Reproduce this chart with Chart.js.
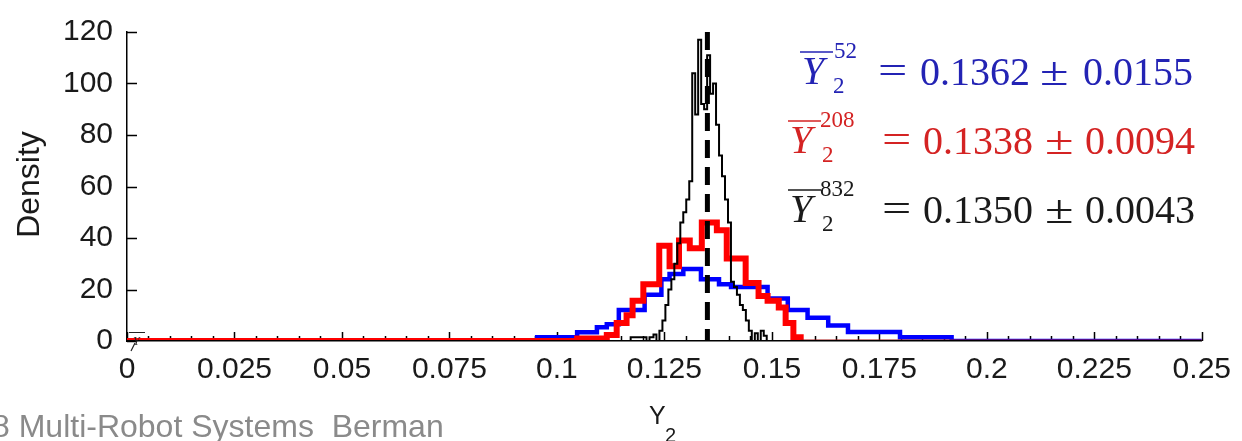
<!DOCTYPE html>
<html><head><meta charset="utf-8">
<script src="https://cdn.jsdelivr.net/npm/chart.js@4.4.1/dist/chart.umd.min.js"></script>
<style>html,body{margin:0;padding:0;background:#fff;overflow:hidden}canvas{display:block}</style>
</head><body>
<canvas id="c" width="1242" height="441"></canvas>
<script>
// ---- axis ticks ----
const xTickValues = [0, 0.025, 0.05, 0.075, 0.1, 0.125, 0.15, 0.175, 0.2, 0.225, 0.25];
const xTickLabels = ['0', '0.025', '0.05', '0.075', '0.1', '0.125', '0.15', '0.175', '0.2', '0.225', '0.25'];
const yTickValues = [0, 20, 40, 60, 80, 100, 120];
const yTickLabels = ['0', '20', '40', '60', '80', '100', '120'];

// ---- histogram stairs: bin left edges and density ----
const blueEdges = [0.0954, 0.1047, 0.1093, 0.1116, 0.1144, 0.1204, 0.1243, 0.1262, 0.1294, 0.1335, 0.1377, 0.1405, 0.1490, 0.1537, 0.1583, 0.1631, 0.1677, 0.1798, 0.1918];
const blueDensity = [1.5, 3.4, 5.3, 6.5, 12, 18, 24, 26, 28, 24, 22, 21, 16.5, 12, 9, 6, 3.5, 1.5, 0];

const redEdges = [0.1047, 0.1116, 0.1139, 0.1162, 0.1176, 0.1201, 0.1238, 0.1262, 0.1284, 0.1309, 0.1337, 0.1372, 0.1395, 0.1439, 0.1469, 0.1490, 0.1516, 0.1532, 0.1550, 0.1567];
const redDensity = [1, 2.3, 7, 10, 15.6, 22, 37, 29, 39, 36, 46, 43, 32, 22.5, 17.5, 15.6, 13, 7, 1.5, 0];

const blackEdges = [0.11715, 0.11876, 0.12084, 0.12153, 0.12246, 0.12315, 0.12384, 0.12454, 0.12523, 0.12592, 0.12662, 0.12731, 0.12800, 0.12870, 0.12939, 0.13008, 0.13078, 0.13147, 0.13216, 0.13285, 0.13355, 0.13424, 0.13494, 0.13563, 0.13632, 0.13701, 0.13771, 0.13840, 0.13909, 0.13979, 0.14048, 0.14118, 0.14187, 0.14256, 0.14325, 0.14395, 0.14464, 0.14533, 0.14603, 0.14672, 0.14741, 0.14811, 0.14880];
const blackDensity = [1.5, 1.5, 0, 1.5, 2.5, 0, 4, 8, 14, 20, 24, 30, 38, 46, 50, 55, 62, 104, 88, 117, 92, 90, 111, 96, 100, 84, 72, 64, 55, 46, 23, 21, 18, 14, 12, 8, 4, 0, 3, 0, 4, 2, 0];

const meanValue = 0.1350;

// ---- legend text ----
const legendSup = ['52', '208', '832'];
const legendMean = ['0.1362', '0.1338', '0.1350'];
const legendStd = ['0.0155', '0.0094', '0.0043'];
const legendColors = ['#2323b4', '#d42323', '#1a1a1a'];

const X_MIN = 0, X_MAX = 0.25, Y_MIN = 0, Y_MAX = 120;

function stairs(edges, vals) {
  const pts = [{x: X_MIN, y: 0}];
  for (let i = 0; i < edges.length; i++) pts.push({x: edges[i], y: vals[i]});
  pts.push({x: X_MAX, y: 0});
  return pts;
}

const decor = {
  id: 'decor',
  beforeDatasetsDraw(chart) {
    const ctx = chart.ctx, xs = chart.scales.x, ys = chart.scales.y, a = chart.chartArea;
    ctx.save();
    ctx.strokeStyle = '#000';
    ctx.lineWidth = 1.5;
    ctx.beginPath();
    for (let k = 0; k <= 50; k++) {
      const v = k * 0.005;
      const px = Math.round(xs.getPixelForValue(v)) + 0.5;
      const major = k % 5 === 0;
      ctx.moveTo(px, a.bottom);
      ctx.lineTo(px, a.bottom - (major ? 9 : 5));
    }
    yTickValues.forEach(v => {
      const py = Math.round(ys.getPixelForValue(v)) + 0.5;
      ctx.moveTo(a.left, py);
      ctx.lineTo(a.left + 10, py);
    });
    ctx.stroke();
    ctx.restore();
  },
  afterDraw(chart) {
    const ctx = chart.ctx, a = chart.chartArea;
    ctx.save();
    // y title
    ctx.fillStyle = '#1a1a1a';
    ctx.font = "32px 'Liberation Sans'";
    ctx.textAlign = 'center';
    ctx.textBaseline = 'middle';
    ctx.translate(30, (a.top + a.bottom) / 2 - 2);
    ctx.rotate(-Math.PI / 2);
    ctx.fillText('Density', 0, 0);
    ctx.restore();

    ctx.save();
    // x title Y_2
    ctx.fillStyle = '#1a1a1a';
    ctx.textBaseline = 'alphabetic';
    ctx.textAlign = 'left';
    ctx.font = "25px 'Liberation Sans'";
    ctx.fillText('Y', 649, 424);
    ctx.font = "20px 'Liberation Sans'";
    ctx.fillText('2', 665, 442);

    // footer
    ctx.fillStyle = '#8a8a8a';
    ctx.font = "32px 'Liberation Sans'";
    ctx.fillText('8 Multi-Robot Systems  Berman', -8, 437);

    // small artifact at origin
    ctx.strokeStyle = '#222';
    ctx.lineWidth = 1.2;
    ctx.beginPath();
    ctx.moveTo(129, 332.5); ctx.lineTo(145, 332.5);
    ctx.moveTo(135, 343); ctx.lineTo(131, 351);
    ctx.stroke();
    ctx.fillStyle = '#222';
    ctx.font = "italic 12px 'Liberation Serif'";
    ctx.fillText('Y', 133, 345);

    // legend equations
    const rows = [
      {base: 85, yx: 802, supx: 834, subx: 833, eqx: 878, mx: 920, pmx: 1040, sx: 1083},
      {base: 154, yx: 790, supx: 820, subx: 822, eqx: 882, mx: 923, pmx: 1045, sx: 1085},
      {base: 223, yx: 790, supx: 820, subx: 822, eqx: 882, mx: 923, pmx: 1045, sx: 1085}
    ];
    rows.forEach((r, i) => {
      ctx.fillStyle = legendColors[i];
      ctx.strokeStyle = legendColors[i];
      ctx.font = "italic 40px 'Liberation Serif'";
      ctx.fillText('Y', r.yx, r.base - 1);
      ctx.lineWidth = 1.6;
      ctx.beginPath();
      ctx.moveTo(r.yx - 2, r.base - 33); ctx.lineTo(r.yx + 31, r.base - 33);
      ctx.stroke();
      ctx.font = "23px 'Liberation Serif'";
      ctx.fillText(legendSup[i], r.supx, r.base - 27);
      ctx.fillText('2', r.subx, r.base + 8);
      ctx.font = "40px 'Liberation Serif'";
      ctx.save(); ctx.translate(r.eqx, r.base - 1); ctx.scale(1.3, 1); ctx.fillText('=', 0, 0); ctx.restore();
      ctx.fillText(legendMean[i], r.mx, r.base);
      ctx.save(); ctx.translate(r.pmx, r.base); ctx.scale(1.3, 1); ctx.fillText('\u00b1', 0, 0); ctx.restore();
      ctx.fillText(legendStd[i], r.sx, r.base);
    });
    ctx.restore();
  }
};

const tickFont = {family: 'Liberation Sans', size: 30};

new Chart(document.getElementById('c').getContext('2d'), {
  type: 'line',
  data: {
    datasets: [
      {
        label: 'mean',
        data: [{x: meanValue, y: Y_MAX}, {x: meanValue, y: Y_MIN}],
        borderColor: '#000', borderWidth: 5, borderDash: [18, 9],
        pointRadius: 0, tension: 0, fill: false
      },
      {
        label: '832',
        data: stairs(blackEdges, blackDensity),
        stepped: 'before', borderColor: '#000', borderWidth: 2,
        pointRadius: 0, fill: false, borderJoinStyle: 'miter'
      },
      {
        label: '208',
        data: stairs(redEdges, redDensity),
        stepped: 'before', borderColor: '#ff0000', borderWidth: 6,
        pointRadius: 0, fill: false, borderJoinStyle: 'miter',
        segment: {
          borderWidth: c => (c.p0.parsed.y === 0 && c.p1.parsed.y === 0) ? 3 : 6,
          borderColor: c => (c.p0.parsed.y === 0 && c.p1.parsed.y === 0) ? '#a81818' : '#ff0000'
        }
      },
      {
        label: '52',
        data: stairs(blueEdges, blueDensity),
        stepped: 'before', borderColor: '#0000ff', borderWidth: 4.5,
        pointRadius: 0, fill: false, borderJoinStyle: 'miter'
      }
    ]
  },
  options: {
    responsive: false,
    animation: false,
    devicePixelRatio: 1,
    events: [],
    layout: {padding: {top: 25, right: 33, bottom: 0, left: 0}},
    plugins: {legend: {display: false}, tooltip: {enabled: false}},
    scales: {
      x: {
        type: 'linear', min: X_MIN, max: X_MAX,
        afterBuildTicks: s => { s.ticks = xTickValues.map(v => ({value: v})); },
        afterFit: s => { s.height = 100; },
        grid: {display: false, drawTicks: false},
        border: {display: true, color: '#000', width: 1.5},
        ticks: {autoSkip: false, maxRotation: 0, minRotation: 0, padding: 11, color: '#1a1a1a', font: tickFont,
          callback: (v, i) => xTickLabels[i]}
      },
      y: {
        type: 'linear', min: Y_MIN, max: Y_MAX,
        afterBuildTicks: s => { s.ticks = yTickValues.map(v => ({value: v})); },
        afterFit: s => { s.width = 127; },
        grid: {display: false, drawTicks: false},
        border: {display: true, color: '#000', width: 1.5},
        ticks: {autoSkip: false, padding: 14, color: '#1a1a1a', font: tickFont,
          callback: (v, i) => yTickLabels[i]}
      }
    }
  },
  plugins: [decor]
});
</script>
</body></html>
